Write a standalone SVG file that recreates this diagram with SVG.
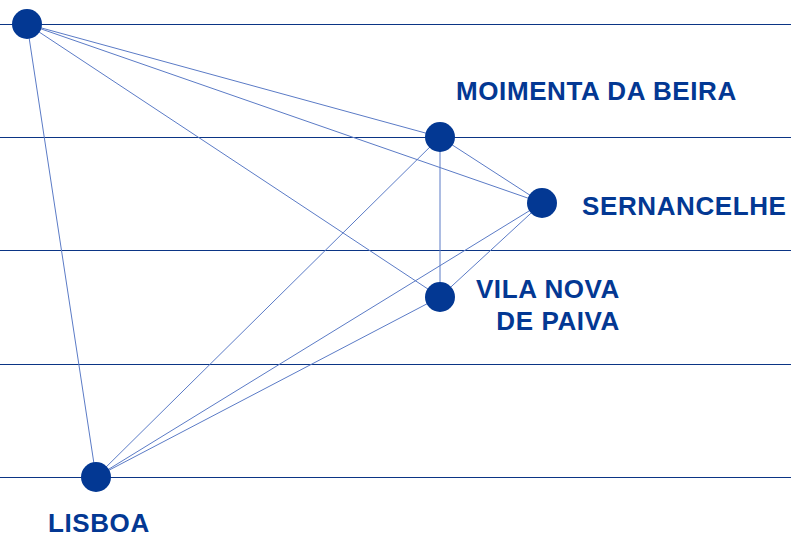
<svg xmlns="http://www.w3.org/2000/svg" width="791" height="538" viewBox="0 0 791 538">
<style>
.grid{stroke:#0b3585;stroke-width:1;fill:none}
.edge{stroke:#5b7bc6;stroke-width:1;fill:none}
.node{fill:#033893}
.lbl{font-family:"Liberation Sans",Arial,sans-serif;font-weight:bold;font-size:26px;fill:#033893;letter-spacing:0.6px}
</style>
<rect width="791" height="538" fill="#ffffff"/>
<g id="grid">
<line class="grid" x1="0" y1="24.5" x2="791" y2="24.5"/>
<line class="grid" x1="0" y1="137.5" x2="791" y2="137.5"/>
<line class="grid" x1="0" y1="250.5" x2="791" y2="250.5"/>
<line class="grid" x1="0" y1="364.5" x2="791" y2="364.5"/>
<line class="grid" x1="0" y1="477.5" x2="791" y2="477.5"/>
</g>
<g id="connectors">
<line class="edge" x1="27" y1="24" x2="440" y2="137"/>
<line class="edge" x1="27" y1="24" x2="542" y2="203"/>
<line class="edge" x1="27" y1="24" x2="440" y2="297"/>
<line class="edge" x1="27" y1="24" x2="96" y2="477"/>
<line class="edge" x1="440" y1="137" x2="542" y2="203"/>
<line class="edge" x1="440" y1="137" x2="440" y2="297"/>
<line class="edge" x1="440" y1="137" x2="96" y2="477"/>
<line class="edge" x1="542" y1="203" x2="440" y2="297"/>
<line class="edge" x1="542" y1="203" x2="96" y2="477"/>
<line class="edge" x1="440" y1="297" x2="96" y2="477"/>
</g>
<g id="node-origin"><circle class="node" cx="27" cy="24" r="15"/></g>
<g id="node-moimenta"><circle class="node" cx="440" cy="137" r="15"/><text class="lbl" x="456" y="100">MOIMENTA DA BEIRA</text></g>
<g id="node-sernancelhe"><circle class="node" cx="542" cy="203" r="15"/><text class="lbl" x="582" y="215">SERNANCELHE</text></g>
<g id="node-vilanova"><circle class="node" cx="440" cy="297" r="15"/><text class="lbl" x="620" y="298" text-anchor="end">VILA NOVA</text><text class="lbl" x="620" y="330" text-anchor="end">DE PAIVA</text></g>
<g id="node-lisboa"><circle class="node" cx="96" cy="477" r="15"/><text class="lbl" x="48" y="532">LISBOA</text></g>
</svg>
